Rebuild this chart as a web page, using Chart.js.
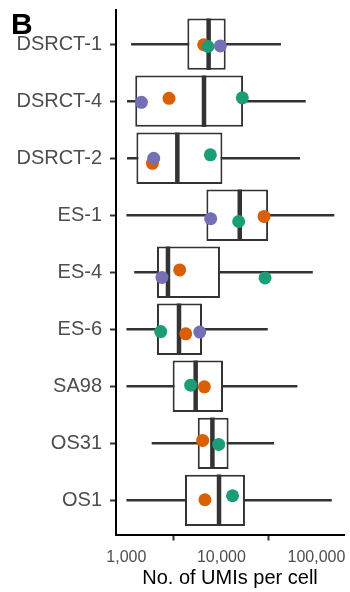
<!DOCTYPE html>
<html>
<head>
<meta charset="utf-8">
<script src="https://cdn.jsdelivr.net/npm/chart.js@4.4.1/dist/chart.umd.min.js"></script>
<style>
  body { margin: 0; background: #fff; }
  #wrap { position: relative; width: 350px; height: 592px; }
  #panel { position: absolute; left: 11px; top: 9px; font: bold 30px "Liberation Sans", Arial, sans-serif; line-height: 30px; color: #000; }
</style>
</head>
<body>
<div id="wrap">
  <canvas id="umiChart"></canvas>
  <div id="panel">B</div>
</div>
<script>
// samples, top to bottom
var rowLabels = ['DSRCT-1', 'DSRCT-4', 'DSRCT-2', 'ES-1', 'ES-4', 'ES-6', 'SA98', 'OS31', 'OS1'];

// box plot stats (UMIs per cell)
var whiskerLow  = [1130, 1025, 1025, 1010, 1220, 1010, 1010, 1860, 1010];
var q1          = [4380, 1240, 1275, 6950, 2100, 2100, 3070, 5640, 4140];
var medians     = [7340, 6560, 3440, 15600, 2740, 3580, 5360, 8040, 9440];
var q3          = [11100, 16900, 10250, 31000, 9660, 6250, 10400, 11900, 17700];
var whiskerHigh = [42000, 76500, 66700, 153000, 90800, 30500, 62500, 35600, 144000];

// per-method points (value + vertical jitter)
var orangeUMI    = [6510, 2810, 1880, 28100, 3640, 4210, 6620, 6350, 6710];
var orangeJitter = [0.01, -0.05, 0.09, 0.02, -0.04, 0.08, 0.01, -0.05, -0.01];
var greenUMI     = [7220, 16600, 7650, 15200, 28800, 2300, 4750, 9370, 13100];
var greenJitter  = [0.04, -0.06, -0.06, 0.11, 0.10, 0.04, -0.02, 0.02, -0.08];
var purpleUMI    = [9750, 1440, 1940, 7710, 2370, 5920];
var purpleJitter = [0.03, 0.02, 0.0, 0.06, 0.09, 0.05];

var xTicks = [1000, 10000, 100000];

var fontFam = '"Liberation Sans", Arial, sans-serif';
var ink = '#333333';

function pts(vals, jit) {
  return vals.map(function(v, i) { return { x: v, y: i + jit[i] }; });
}

var whiskers = rowLabels.map(function(l, i) { return { x: [whiskerLow[i], whiskerHigh[i]], y: i }; });
var boxes = rowLabels.map(function(l, i) { return { x: [q1[i], q3[i]], y: i }; });
var meds = rowLabels.map(function(l, i) { return { x: medians[i], y: i }; });

var ctx = document.getElementById('umiChart').getContext('2d');
var chart = new Chart(ctx, {
  type: 'bar',
  data: {
    datasets: [
      {
        type: 'bar', indexAxis: 'y', grouped: false, order: 5,
        data: whiskers,
        backgroundColor: ink, borderWidth: 0,
        barThickness: 2
      },
      {
        type: 'bar', indexAxis: 'y', grouped: false, order: 4,
        data: boxes,
        backgroundColor: '#ffffff', borderColor: ink, borderWidth: 2, borderSkipped: false,
        barPercentage: 0.9, categoryPercentage: 1.0
      },
      {
        type: 'scatter', order: 3,
        data: meds,
        pointStyle: 'line', rotation: 90, pointRadius: 25.7,
        borderColor: ink, borderWidth: 4.5, backgroundColor: ink
      },
      {
        type: 'scatter', order: 2,
        data: pts(orangeUMI, orangeJitter),
        pointRadius: 6.5, backgroundColor: '#D95F02', borderWidth: 0
      },
      {
        type: 'scatter', order: 1,
        data: pts(greenUMI, greenJitter),
        pointRadius: 6.5, backgroundColor: '#1B9E77', borderWidth: 0
      },
      {
        type: 'scatter', order: 0,
        data: pts(purpleUMI, purpleJitter),
        pointRadius: 6.5, backgroundColor: '#7570B3', borderWidth: 0
      }
    ]
  },
  options: {
    responsive: true,
    maintainAspectRatio: false,
    animation: false,
    layout: { autoPadding: false, padding: { top: 10, right: 6, left: 0, bottom: 0 } },
    plugins: { legend: { display: false }, tooltip: { enabled: false } },
    scales: {
      x: {
        type: 'logarithmic',
        min: 778, max: 195000,
        afterBuildTicks: function(scale) {
          scale.ticks = xTicks.map(function(v) { return { value: v }; });
        },
        afterFit: function(scale) {
          scale.height = 57.5;
          scale.paddingLeft = 0; scale.paddingRight = 0;
        },
        ticks: {
          color: '#4d4d4d', padding: 7,
          font: { family: fontFam, size: 16 },
          maxRotation: 0, autoSkip: false,
          callback: function(v) { return Number(v).toLocaleString('en-US'); }
        },
        grid: { drawOnChartArea: false, tickLength: 6, tickColor: ink, tickWidth: 2 },
        border: { display: true, color: '#000', width: 2 },
        title: {
          display: true, text: 'No. of UMIs per cell', color: '#000',
          font: { family: fontFam, size: 20 }, padding: { top: 0, bottom: 2 }
        }
      },
      y: {
        type: 'linear',
        reverse: true,
        offset: false,
        min: -0.6, max: 8.6,
        afterBuildTicks: function(scale) {
          scale.ticks = rowLabels.map(function(l, i) { return { value: i }; });
        },
        afterFit: function(scale) {
          scale.width = 116;
          scale.paddingTop = 0; scale.paddingBottom = 0;
        },
        ticks: {
          color: '#4d4d4d', padding: 8, autoSkip: false,
          font: { family: fontFam, size: 20 },
          callback: function(v) { return rowLabels[v]; }
        },
        grid: { offset: false, drawOnChartArea: false, tickLength: 6, tickColor: ink, tickWidth: 2 },
        border: { display: true, color: '#000', width: 2 }
      }
    }
  }
});
</script>
</body>
</html>
